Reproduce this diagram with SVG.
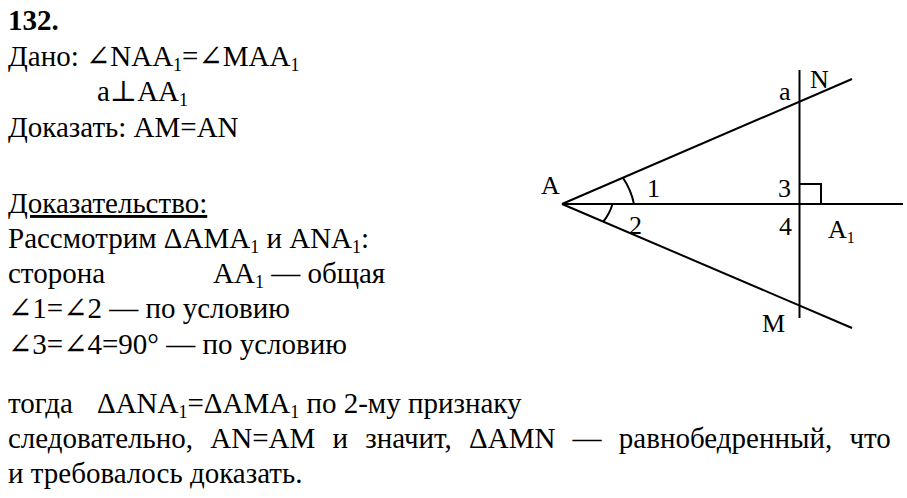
<svg xmlns="http://www.w3.org/2000/svg" width="907" height="498" viewBox="0 0 907 498">
<style>
text{font-family:"Liberation Serif","Times New Roman","DejaVu Serif",serif;font-size:29px;fill:#000}
.s{font-size:18px}
.f{font-size:26px}
.ln{stroke:#000;stroke-width:2;fill:none}
</style>
<rect width="907" height="498" fill="#fff"/>
<g id="text">
<text x="8" y="30" font-weight="bold">132.</text>
<text x="8" y="66">Дано: ∠NAA<tspan class="s" dy="5">1</tspan><tspan dy="-5">=∠MAA</tspan><tspan class="s" dy="5">1</tspan></text>
<text x="97" y="101">a⊥AA<tspan class="s" dy="5">1</tspan></text>
<text x="8" y="137">Доказать: AM=AN</text>
<text x="8" y="213" text-decoration="underline">Доказательство:</text>
<text x="8" y="248">Рассмотрим ΔAMA<tspan class="s" dy="5">1</tspan><tspan dy="-5"> и ANA</tspan><tspan class="s" dy="5">1</tspan><tspan dy="-5">:</tspan></text>
<text x="8" y="283">сторона</text>
<text x="213" y="283">AA<tspan class="s" dy="5">1</tspan><tspan dy="-5"> — общая</tspan></text>
<text x="8" y="318">∠1=∠2 — по условию</text>
<text x="8" y="354">∠3=∠4=90° — по условию</text>
<text x="8" y="413">тогда</text>
<text x="97" y="413">ΔANA<tspan class="s" dy="5">1</tspan><tspan dy="-5">=ΔAMA</tspan><tspan class="s" dy="5">1</tspan><tspan dy="-5"> по 2-му признаку</tspan></text>
<text x="8" y="448" word-spacing="10">следовательно,  AN=AM и значит, ΔAMN — равнобедренный, что</text>
<text x="8" y="483">и требовалось доказать.</text>
</g>
<g id="figure">
<line class="ln" x1="562" y1="204" x2="903" y2="204"/>
<line class="ln" x1="562" y1="204" x2="852" y2="79"/>
<line class="ln" x1="562" y1="204" x2="852" y2="328"/>
<line class="ln" x1="799.5" y1="70" x2="799.5" y2="318"/>
<polyline class="ln" points="799.5,184 821,184 821,204"/>
<path class="ln" d="M622.7,177.5 A72,72 0 0 1 634,204"/>
<path class="ln" d="M612.5,204 A51,51 0 0 1 603,222"/>
<text class="f" x="541" y="194">A</text>
<text class="f" x="647" y="197">1</text>
<text class="f" x="629" y="234">2</text>
<text class="f" x="778" y="197">3</text>
<text class="f" x="779" y="235">4</text>
<text class="f" x="828" y="238">A<tspan font-size="16" dy="5">1</tspan></text>
<text class="f" x="779" y="100">a</text>
<text class="f" x="810" y="88">N</text>
<text class="f" x="762" y="332">M</text>
</g>
</svg>
